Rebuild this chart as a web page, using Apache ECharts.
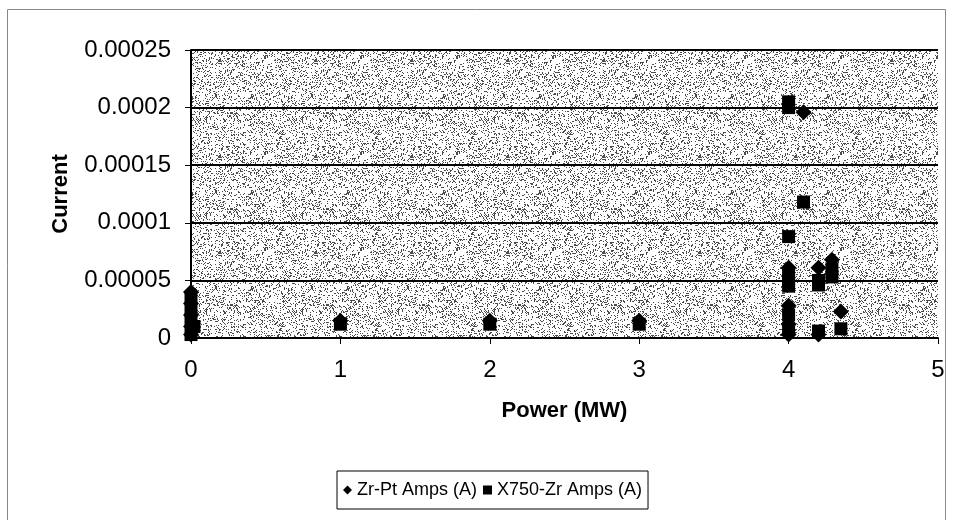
<!DOCTYPE html>
<html>
<head>
<meta charset="utf-8">
<script src="https://cdn.jsdelivr.net/npm/echarts@6/dist/echarts.min.js"></script>
<style>
  html, body { margin: 0; padding: 0; background: #fff; }
  #main { width: 954px; height: 520px; }
</style>
</head>
<body>
<div id="main"></div>
<script>
// Zr-Pt series (diamonds): [power MW, current A]
var zrPt = [
  [0, 0.00004], [0, 0.00003], [0, 0.00002], [0, 0.00001], [0, 0.000003],
  [1, 0.000015], [2, 0.000015], [3, 0.000015],
  [4, 0.000061], [4, 0.000028], [4, 0.000012], [4, 0.000003],
  [4.1, 0.000196], [4.2, 0.000061], [4.2, 0.000003], [4.29, 0.000068], [4.35, 0.000023]
];
// X750-Zr series (squares)
var x750 = [
  [0, 0.000035], [0, 0.000025], [0, 0.000015], [0.02, 0.00001], [0, 0.000003],
  [1, 0.000012], [2, 0.000012], [3, 0.000012],
  [4, 0.000205], [4, 0.0002], [4, 0.000088], [4, 0.000055], [4, 0.00005], [4, 0.000045],
  [4, 0.00002], [4, 0.000008],
  [4.1, 0.000118], [4.2, 0.00005], [4.2, 0.000046], [4.2, 0.000006],
  [4.29, 0.00006], [4.29, 0.000053], [4.35, 0.000008]
];
var seriesNames = ['Zr-Pt Amps (A)', 'X750-Zr Amps (A)'];

// speckled grey texture for the plot area (deterministic dither)
var tex = document.createElement('canvas');
tex.width = 96; tex.height = 96;
var tctx = tex.getContext('2d');
tctx.fillStyle = '#ffffff';
tctx.fillRect(0, 0, 96, 96);
tctx.fillStyle = '#4a4a4a';
for (var i = 0; i < 96; i++) {
  for (var j = 0; j < 96; j++) {
    var h = ((i * 73856093) ^ (j * 19349663) ^ ((i + j) * 83492791)) >>> 0;
    if ((h % 100) < 20) tctx.fillRect(i, j, 1, 1);
  }
}

var chart = echarts.init(document.getElementById('main'));
var font = 'Liberation Sans, Arial, sans-serif';

chart.setOption({
  animation: false,
  backgroundColor: '#fff',
  textStyle: { fontFamily: font },
  graphic: [{
    type: 'rect',
    shape: { x: 7.5, y: 9.5, width: 938, height: 530 },
    style: { fill: 'none', stroke: '#888', lineWidth: 1 },
    silent: true
  }],
  grid: {
    left: 191, right: 16, top: 50, bottom: 182,
    show: true,
    backgroundColor: { image: tex, repeat: 'repeat' },
    borderWidth: 0
  },
  legend: {
    bottom: 11,
    left: 337,
    data: [
      { name: seriesNames[0], icon: 'diamond' },
      { name: seriesNames[1], icon: 'rect' }
    ],
    itemWidth: 9, itemHeight: 9, itemGap: 6,
    padding: [10, 6, 10, 6],
    borderColor: '#000', borderWidth: 1,
    textStyle: { fontSize: 18, color: '#000', fontFamily: font }
  },
  xAxis: {
    type: 'value', min: 0, max: 5, interval: 1,
    name: 'Power (MW)', nameLocation: 'middle', nameGap: 62,
    nameTextStyle: { fontSize: 22, fontWeight: 'bold', color: '#000' },
    axisLine: { show: true, lineStyle: { color: '#000', width: 2 } },
    axisTick: { show: true, inside: false, length: 6, lineStyle: { color: '#000' } },
    axisLabel: { fontSize: 24, color: '#000', margin: 20 },
    splitLine: { show: false }
  },
  yAxis: {
    type: 'value', min: 0, max: 0.00025, interval: 0.00005,
    name: 'Current', nameLocation: 'middle', nameGap: 119, nameRotate: 90,
    nameTextStyle: { fontSize: 22, fontWeight: 'bold', color: '#000' },
    axisLine: { show: true, lineStyle: { color: '#000', width: 2 } },
    axisTick: { show: true, inside: false, length: 6, lineStyle: { color: '#000' } },
    axisLabel: {
      fontSize: 24, color: '#000', margin: 20,
      formatter: function (v) { return String(parseFloat(v.toFixed(6))); }
    },
    splitLine: { show: true, lineStyle: { color: '#000', width: 2 } }
  },
  series: [
    {
      name: seriesNames[0], type: 'scatter', symbol: 'diamond', symbolSize: 16,
      itemStyle: { color: '#000', opacity: 1 }, data: zrPt
    },
    {
      name: seriesNames[1], type: 'scatter', symbol: 'rect', symbolSize: 13,
      itemStyle: { color: '#000', opacity: 1 }, data: x750
    }
  ]
});
</script>
</body>
</html>
